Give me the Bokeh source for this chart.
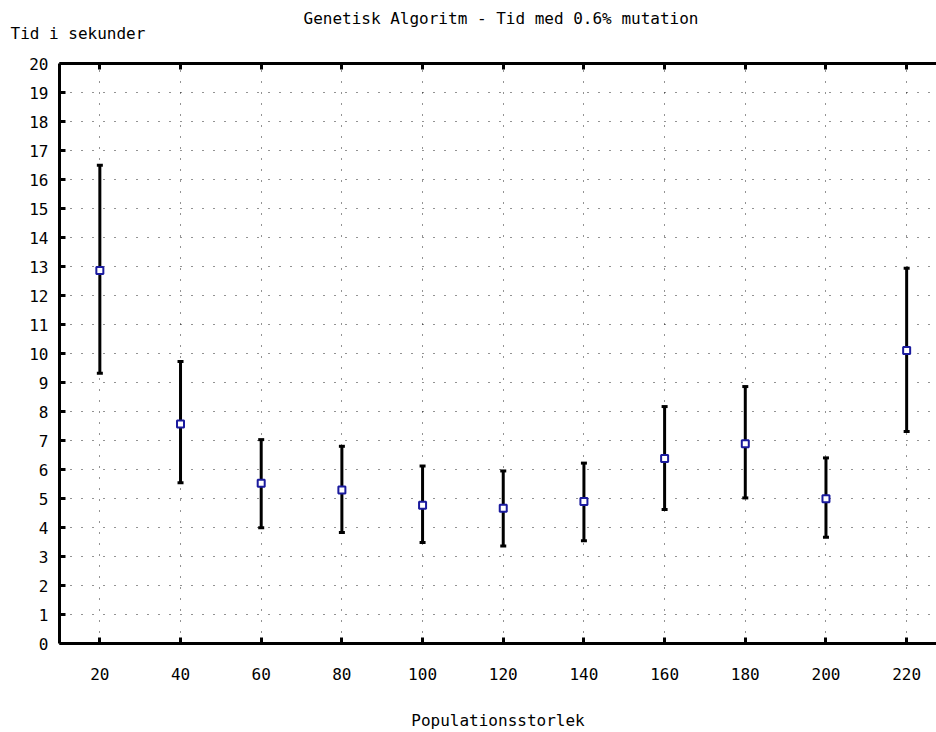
from bokeh.plotting import figure
from bokeh.models import (Range1d, LinearAxis, FixedTicker, Title, Whisker,
                          ColumnDataSource, TeeHead)
from bokeh.embed import file_html
from bokeh.resources import INLINE

population = [20, 40, 60, 80, 100, 120, 140, 160, 180, 200, 220]
mean_time = [12.86, 7.57, 5.53, 5.29, 4.77, 4.66, 4.90, 6.38, 6.89, 4.99, 10.10]
upper_time = [16.49, 9.72, 7.03, 6.80, 6.12, 5.95, 6.22, 8.17, 8.86, 6.40, 12.94]
lower_time = [9.32, 5.54, 3.99, 3.83, 3.48, 3.36, 3.54, 4.62, 5.02, 3.66, 7.31]
x_ticks = [20, 40, 60, 80, 100, 120, 140, 160, 180, 200, 220]
y_ticks = list(range(0, 21))

title_text = "Genetisk Algoritm - Tid med 0.6% mutation"
y_label = "Tid i sekunder"
x_label = "Populationsstorlek"

FONT = "DejaVu Sans Mono"
FS = "16px"

src = ColumnDataSource(dict(x=population, mean=mean_time,
                            upper=upper_time, lower=lower_time))

p = figure(width=936, height=732, output_backend="svg", toolbar_location=None,
           title=None,
           x_range=Range1d(10, 227.4), y_range=Range1d(0, 20),
           min_border_left=59, min_border_right=0, min_border_top=63,
           min_border_bottom=89)
p.outline_line_color = None
p.background_fill_color = "white"
p.border_fill_color = "white"


def style_axis(ax, ticks):
    ax.ticker = FixedTicker(ticks=ticks)
    ax.axis_line_width = 3
    ax.axis_line_color = "black"
    ax.major_tick_in = 6
    ax.major_tick_out = 0
    ax.major_tick_line_width = 3
    ax.major_tick_line_color = "black"
    ax.minor_tick_line_color = None
    ax.major_label_text_font = FONT
    ax.major_label_text_font_size = FS
    ax.major_label_text_color = "black"
    ax.axis_label_text_font = FONT
    ax.axis_label_text_font_size = FS
    ax.axis_label_text_font_style = "normal"
    ax.axis_label_text_color = "black"


xax = p.xaxis[0]
style_axis(xax, x_ticks)
xax.major_label_standoff = 24
xax.axis_label = x_label
xax.axis_label_standoff = 28

yax = p.yaxis[0]
style_axis(yax, y_ticks)
yax.major_label_standoff = 11

for g, t in ((p.xgrid[0], x_ticks), (p.ygrid[0], y_ticks)):
    g.ticker = FixedTicker(ticks=t)
    g.grid_line_color = "black"
    g.grid_line_width = 1
    g.grid_line_dash = "1 10"
    g.grid_line_alpha = 0.85

# visible top border with inward ticks
top = LinearAxis()
style_axis(top, x_ticks)
top.major_label_text_color = None
top.major_label_text_font_size = "0px"
top.major_label_standoff = 0
p.add_layout(top, "above")

# invisible spacer axis between the frame and the titles
spacer = LinearAxis()
spacer.ticker = FixedTicker(ticks=x_ticks)
spacer.axis_line_color = None
spacer.major_tick_line_color = None
spacer.minor_tick_line_color = None
spacer.major_tick_in = 0
spacer.major_tick_out = 22
spacer.major_label_text_color = None
spacer.major_label_text_font_size = "0px"
spacer.major_label_standoff = 0
p.add_layout(spacer, "above")

p.add_layout(Title(text=y_label, align="left", offset=-49, standoff=-2,
                   text_font=FONT, text_font_size=FS, text_font_style="normal",
                   text_color="black"), "above")
p.add_layout(Title(text=title_text, align="left", offset=244, standoff=-10,
                   text_font=FONT, text_font_size=FS, text_font_style="normal",
                   text_color="black"), "above")

whisk = Whisker(base="x", upper="upper", lower="lower", source=src,
                line_width=3, line_color="black",
                upper_head=TeeHead(size=6, line_width=3, line_color="black"),
                lower_head=TeeHead(size=6, line_width=3, line_color="black"))
p.add_layout(whisk)

p.scatter("x", "mean", source=src, marker="square", size=7,
          line_color="#1a1a9e", line_width=2, fill_color="white")

open("out.html", "w").write(file_html(p, INLINE))
